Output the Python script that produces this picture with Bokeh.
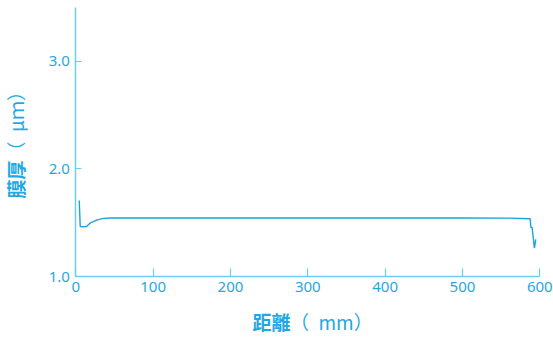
import math
from bokeh.plotting import figure
from bokeh.models import Range1d, FixedTicker, Label, LinearAxis
from bokeh.embed import file_html
from bokeh.resources import INLINE

# Film thickness profile along the sample
distance_mm = [4.4, 5.7, 9.0, 13.8, 19.0, 27.6, 36.0, 45.0, 100.0, 200.0, 300.0,
               400.0, 500.0, 560.0, 587.4, 588.5, 590.0, 593.0, 594.8]
thickness_um = [1.706, 1.464, 1.462, 1.464, 1.499, 1.526, 1.540, 1.543, 1.543, 1.543, 1.543,
                1.543, 1.543, 1.542, 1.537, 1.456, 1.456, 1.263, 1.344]

x_ticks = [0, 100, 200, 300, 400, 500, 600]
y_ticks = [1.0, 2.0, 3.0]

axis_color = "#6ccdf2"
text_color = "#1fa8e3"
line_color = "#1aa3e0"
cjk_font = "Noto Sans CJK JP"

# The plotting frame fills the whole canvas; the axes sit at x=0 / y=1.0
# so the titles can be placed freely around them.
p = figure(width=553, height=337, output_backend="svg", toolbar_location=None,
           x_range=Range1d(-97.4, 617.7), y_range=Range1d(0.4336, 3.563),
           x_axis_location=None, y_axis_location=None,
           min_border=0, min_border_left=0, min_border_right=0,
           min_border_top=0, min_border_bottom=0)
p.outline_line_color = None
p.xgrid.visible = False
p.ygrid.visible = False

p.line(distance_mm, thickness_um, line_color=line_color, line_width=1.4)

xaxis = LinearAxis(fixed_location=1.0, bounds=(0, 600), ticker=FixedTicker(ticks=x_ticks))
yaxis = LinearAxis(fixed_location=0, bounds=(1.0, 3.5), ticker=FixedTicker(ticks=y_ticks))
for ax in (xaxis, yaxis):
    ax.axis_line_color = axis_color
    ax.axis_line_width = 1.5
    ax.major_tick_line_color = axis_color
    ax.major_tick_line_width = 1.2
    ax.major_tick_out = 0
    ax.minor_tick_line_color = None
    ax.major_label_text_color = text_color
    ax.major_label_text_font = "Noto Sans"
    ax.major_label_text_font_size = "15px"
xaxis.major_tick_in = 8
yaxis.major_tick_in = 6
xaxis.major_label_standoff = 5
yaxis.major_label_standoff = 6
yaxis.major_label_overrides = {1.0: "1.0", 2.0: "2.0", 3.0: "3.0"}
p.add_layout(xaxis, "below")
p.add_layout(yaxis, "left")

# Axis titles: bold quantity name followed by the unit in regular weight.
def title_part(text, x, y, bold, angle=0.0):
    return Label(x=x, y=y, text=text, angle=angle,
                 text_align="left", text_baseline="middle",
                 text_color=text_color, text_font=cjk_font, text_font_size="19px",
                 text_font_style="bold" if bold else "normal")

p.add_layout(title_part("距離", 228.5, 0.582, True))
p.add_layout(title_part("（\u2002mm）", 277, 0.582, False))
p.add_layout(title_part("膜厚", -78, 1.724, True, math.pi / 2))
p.add_layout(title_part("（\u2002μｍ）", -78, 2.077, False, math.pi / 2))

open("out.html", "w").write(file_html(p, INLINE))
